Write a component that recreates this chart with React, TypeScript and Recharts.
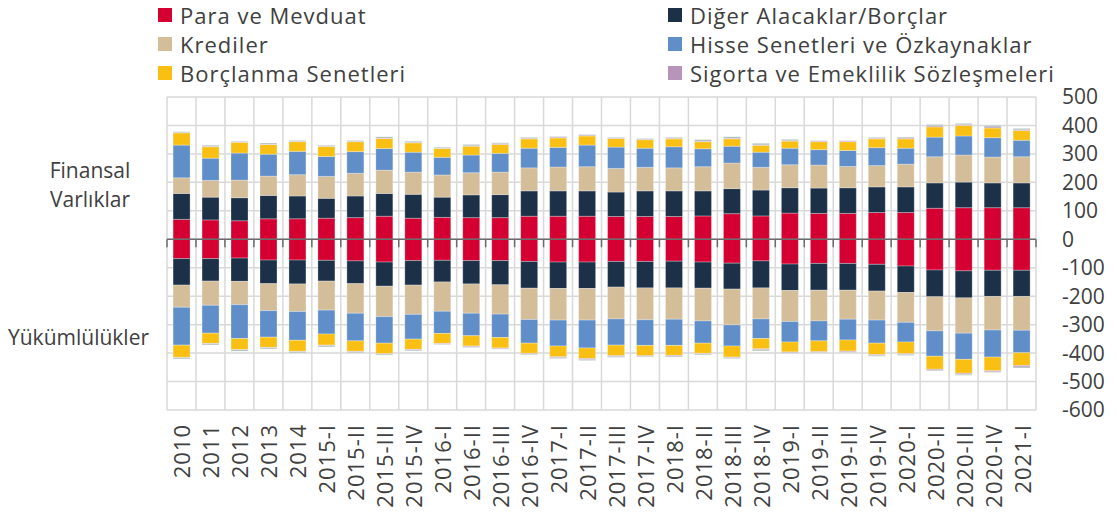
import React from 'react';
import { BarChart, Bar, XAxis, YAxis, CartesianGrid, ReferenceLine } from 'recharts';

const periods = [
  '2010', '2011', '2012', '2013', '2014',
  '2015-I', '2015-II', '2015-III', '2015-IV',
  '2016-I', '2016-II', '2016-III', '2016-IV',
  '2017-I', '2017-II', '2017-III', '2017-IV',
  '2018-I', '2018-II', '2018-III', '2018-IV',
  '2019-I', '2019-II', '2019-III', '2019-IV',
  '2020-I', '2020-II', '2020-III', '2020-IV',
  '2021-I',
];

// Finansal varlıklar (milyar TL)
const paraVarlik = [70, 68, 65, 72, 72, 74, 76, 81, 74, 77, 76, 76, 81, 81, 81, 80, 80, 80, 82, 90, 82, 92, 91, 91, 94, 94, 109, 111, 111, 111];
const digerVarlik = [91, 80, 81, 82, 80, 70, 76, 80, 84, 71, 80, 81, 89, 89, 89, 86, 90, 90, 88, 88, 91, 89, 89, 90, 90, 90, 89, 90, 87, 87];
const krediVarlik = [55, 59, 62, 68, 75, 77, 80, 82, 78, 78, 78, 79, 81, 84, 85, 83, 83, 81, 85, 90, 80, 81, 81, 75, 75, 80, 92, 95, 91, 92];
const hisseVarlik = [115, 78, 95, 77, 82, 70, 76, 76, 70, 62, 62, 66, 69, 69, 76, 75, 67, 74, 63, 59, 53, 58, 54, 56, 63, 56, 69, 67, 68, 58];
const borcVarlik = [43, 40, 38, 34, 34, 35, 35, 35, 33, 31, 31, 31, 33, 33, 32, 30, 30, 28, 25, 26, 24, 25, 28, 31, 31, 33, 36, 37, 34, 34];
const sigortaVarlik = [1, 1, 1, 1, 1, 1, 1, 2, 1, 1, 2, 3, 2, 3, 3, 2, 2, 2, 2, 2, 2, 2, 3, 3, 2, 3, 4, 3, 4, 3];
const kalanVarlik = [3, 4, 2, 4, 3, 3, 3, 4, 4, 3, 4, 3, 3, 2, 2, 2, 2, 3, 5, 5, 5, 4, 1, 1, 3, 3, 4, 4, 5, 4];

// Yükümlülükler
const paraYuk = [-68, -68, -66, -73, -73, -74, -76, -80, -75, -74, -75, -75, -78, -80, -80, -78, -78, -77, -80, -84, -76, -87, -85, -85, -88, -94, -108, -111, -109, -109];
const digerYuk = [-93, -79, -82, -83, -84, -73, -80, -85, -86, -76, -82, -85, -94, -93, -93, -90, -93, -94, -92, -91, -95, -93, -94, -94, -94, -93, -94, -95, -92, -92];
const krediYuk = [-78, -85, -82, -95, -97, -102, -104, -107, -103, -103, -103, -103, -110, -111, -111, -112, -112, -110, -115, -126, -109, -109, -108, -102, -102, -105, -120, -124, -118, -119];
const hisseYuk = [-133, -98, -119, -93, -101, -84, -97, -93, -87, -78, -79, -82, -83, -91, -98, -92, -90, -92, -78, -74, -69, -72, -70, -73, -81, -69, -89, -92, -95, -79];
const borcYuk = [-43, -36, -39, -36, -39, -39, -37, -37, -36, -35, -36, -37, -36, -38, -37, -37, -36, -35, -36, -39, -36, -35, -38, -39, -40, -41, -46, -49, -48, -45];
const sigortaYuk = [-1, -1, -1, -1, -1, -2, -2, -2, -2, -2, -3, -3, -3, -3, -4, -3, -3, -3, -2, -2, -3, -3, -3, -3, -3, -3, -4, -4, -4, -5];
const kalanYuk = [-4, -4, -4, -4, -4, -4, -3, -3, -3, -2, -2, -1, -2, -3, -3, -3, -2, -3, -3, -3, -4, -2, -2, -2, -3, -3, -2, -3, -2, -3];

const yTicks = [500, 400, 300, 200, 100, 0, -100, -200, -300, -400, -500, -600];

const series = [
  { key: 'para', name: 'Para ve Mevduat', color: '#d50032', a: paraVarlik, l: paraYuk },
  { key: 'diger', name: 'Diğer Alacaklar/Borçlar', color: '#1c3048', a: digerVarlik, l: digerYuk },
  { key: 'kredi', name: 'Krediler', color: '#d4bd99', a: krediVarlik, l: krediYuk },
  { key: 'hisse', name: 'Hisse Senetleri ve Özkaynaklar', color: '#5f8ec8', a: hisseVarlik, l: hisseYuk },
  { key: 'borc', name: 'Borçlanma Senetleri', color: '#f9c013', a: borcVarlik, l: borcYuk },
  { key: 'sigorta', name: 'Sigorta ve Emeklilik Sözleşmeleri', color: '#b895b8', a: sigortaVarlik, l: sigortaYuk },
  { key: 'kalan', name: '', color: '#a3b3b1', a: kalanVarlik, l: kalanYuk },
];

const data = periods.map((p, i) => {
  const row: Record<string, string | number> = { period: p };
  series.forEach((s) => {
    row[s.key + 'A'] = s.a[i];
    row[s.key + 'L'] = s.l[i];
  });
  return row;
});

const legendCols = [
  [series[0], series[2], series[4]],
  [series[1], series[3], series[5]],
];

const FONT = '"Open Sans", sans-serif';
const TEXT = '#404040';

const XTick = (props: any) => {
  const { x, y, payload } = props;
  return (
    <text
      x={x}
      y={y}
      transform={`rotate(-90 ${x} ${y})`}
      textAnchor="end"
      dominantBaseline="central"
      fill={TEXT}
      fontSize={22}
      letterSpacing={1}
      fontFamily={FONT}
    >
      {payload.value}
    </text>
  );
};

const ZeroLine = (props: any) => {
  const { x1, x2, y1 } = props;
  const n = periods.length;
  const step = (x2 - x1) / n;
  return (
    <g>
      <line x1={x1} x2={x2} y1={y1} y2={y1} stroke="#6b6b6b" strokeWidth={1.5} />
      {Array.from({ length: n + 1 }, (_, i) => (
        <line key={i} x1={x1 + i * step} x2={x1 + i * step} y1={y1} y2={y1 + 8} stroke="#6b6b6b" strokeWidth={1.5} />
      ))}
    </g>
  );
};

export default function App() {
  return (
    <div style={{ position: 'absolute', left: 0, top: 0, width: 1117, height: 515, background: '#fff', fontFamily: FONT, color: TEXT }}>
      {legendCols.map((col, ci) =>
        col.map((s, ri) => (
          <div
            key={s.key}
            style={{ position: 'absolute', left: ci === 0 ? 158 : 668, top: 2 + ri * 29, height: 26, display: 'flex', alignItems: 'center', fontSize: 22, letterSpacing: 1, whiteSpace: 'nowrap' }}
          >
            <span style={{ display: 'inline-block', width: 14, height: 14, background: s.color, marginRight: 8 }} />
            {s.name}
          </div>
        ))
      )}
      <div style={{ position: 'absolute', left: 20, width: 140, top: 156, textAlign: 'center', fontSize: 21, lineHeight: '29px' }}>
        Finansal
        <br />
        Varlıklar
      </div>
      <div style={{ position: 'absolute', left: 8, top: 323, fontSize: 21, lineHeight: '29px' }}>Yükümlülükler</div>
      <div style={{ position: 'absolute', left: 0, top: 0 }}>
        <BarChart
          width={1117}
          height={515}
          data={data}
          stackOffset="sign"
          barCategoryGap="21%"
          margin={{ top: 97, right: 21, bottom: 5, left: 167 }}
        >
          <CartesianGrid
            stroke="#d9d9d9"
            strokeWidth={1.5}
            verticalCoordinatesGenerator={({ offset }: any) =>
              Array.from({ length: periods.length + 1 }, (_, i) => offset.left + (i * offset.width) / periods.length)
            }
          />
          <XAxis
            dataKey="period"
            height={100}
            interval={0}
            axisLine={false}
            tickLine={false}
            tickSize={6}
            tickMargin={8}
            tick={<XTick />}
          />
          <YAxis
            orientation="right"
            width={60}
            domain={[-600, 500]}
            ticks={yTicks}
            interval={0}
            axisLine={false}
            tickLine={false}
            tickMargin={20}
            tick={{ fill: TEXT, fontSize: 21, fontFamily: FONT, textAnchor: 'start' }}
          />
          {series.flatMap((s) => [
            <Bar key={s.key + 'A'} dataKey={s.key + 'A'} stackId="s" fill={s.color} stroke="#ffffff" strokeOpacity={0.35} strokeWidth={0.8} isAnimationActive={false} />,
            <Bar key={s.key + 'L'} dataKey={s.key + 'L'} stackId="s" fill={s.color} stroke="#ffffff" strokeOpacity={0.35} strokeWidth={0.8} isAnimationActive={false} />,
          ])}
          <ReferenceLine y={0} shape={<ZeroLine />} />
        </BarChart>
      </div>
    </div>
  );
}
